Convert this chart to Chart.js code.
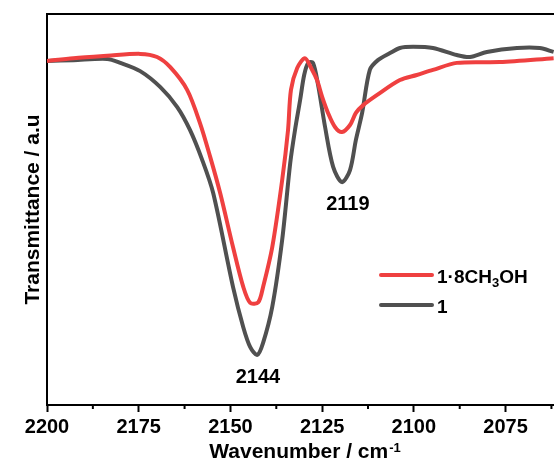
<!DOCTYPE html>
<html>
<head>
<meta charset="utf-8">
<script src="https://cdn.jsdelivr.net/npm/chart.js@4.4.0/dist/chart.umd.min.js"></script>
<style>
    html, body { margin: 0; padding: 0; background: #fff; }
    #wrap { width: 554px; height: 460px; position: relative; }
</style>
</head>
<body>
<div id="wrap"><canvas id="chartIR"></canvas></div>
<script>
// Serie "1"
const wavenumbersRef = [2200, 2192.8, 2183.6, 2180.0, 2174.6, 2169.1, 2164.5, 2161.0, 2157.7, 2154.7, 2149.3,
    2146.5, 2144.6, 2142.7, 2141.1, 2138.6, 2135.9, 2133.7, 2132.4, 2131.0, 2129.9,
    2128.8, 2127.5, 2126.1, 2124.2, 2122.0, 2119.6, 2117.4, 2115.8, 2114.1, 2112.0,
    2109.8, 2106.5, 2103.8, 2100.2, 2094.8, 2088.3, 2084.7, 2080.1, 2071.9, 2065.7, 2061.9];
const transRef = [88.0, 88.2, 88.5, 87.5, 85.4, 81.3, 76.2, 70.3, 62.7, 54.2, 30.2,
    19.9, 14.8, 12.8, 15.9, 25.1, 42.2, 61.9, 70.3, 78.0, 84.4,
    87.5, 87.5, 81.8, 71.1, 60.9, 57.0, 60.1, 67.8, 74.7, 85.7,
    88.2, 90.0, 91.3, 91.6, 91.3, 89.5, 89.0, 90.3, 91.3, 91.3, 90.3];

// Serie "1·8CH3OH"
const wavenumbersMeOH = [2200, 2192.8, 2183.6, 2174.6, 2170.0, 2166.4, 2161.8, 2158.3, 2155.5, 2152.8, 2149.3,
    2146.5, 2144.6, 2142.4, 2141.1, 2138.6, 2135.9, 2134.3, 2133.5, 2131.8, 2129.7,
    2128.0, 2126.4, 2125.0, 2123.4, 2121.5, 2119.6, 2117.4, 2115.8, 2113.8, 2110.0,
    2103.8, 2099.2, 2094.8, 2088.3, 2076.6, 2061.9];
const transMeOH = [88.0, 88.7, 89.3, 89.8, 89.0, 86.4, 80.6, 72.1, 63.4, 54.2, 40.4,
    30.2, 26.1, 26.3, 30.2, 40.4, 57.5, 70.3, 80.6, 86.2, 88.7,
    86.2, 83.1, 78.8, 74.7, 71.1, 69.8, 71.6, 74.7, 76.7, 79.3,
    83.1, 84.4, 85.7, 87.5, 87.7, 88.7];

const majorTicks = [2200, 2175, 2150, 2125, 2100, 2075];
const minorTicks = [2187.5, 2162.5, 2137.5, 2112.5, 2087.5, 2062.5];
const peakLabels = ['2144', '2119'];
const peakPositions = [2142.5, 2118];

const FONT = '"Liberation Sans", Arial, sans-serif';
const ROJO = '#ef4040';
const GRIS = '#505050';

function aPuntos(xs, ys) {
    return xs.map((x, i) => ({ x, y: ys[i] }));
}

const extrasPlugin = {
    id: 'extras',
    afterDraw(chart) {
        const { ctx, chartArea: a, scales: { x, y } } = chart;
        ctx.save();

        // marco superior y ticks menores
        ctx.strokeStyle = '#000';
        ctx.lineWidth = 2;
        ctx.beginPath();
        ctx.moveTo(a.left - 1, a.top);
        ctx.lineTo(a.right, a.top);
        ctx.stroke();
        minorTicks.forEach(v => {
            const px = x.getPixelForValue(v);
            ctx.beginPath();
            ctx.moveTo(px, a.bottom);
            ctx.lineTo(px, a.bottom + 4);
            ctx.stroke();
        });

        // etiquetas de picos, bajo el mínimo de la serie "1"
        ctx.fillStyle = '#000';
        ctx.font = 'bold 20px ' + FONT;
        ctx.textAlign = 'center';
        ctx.textBaseline = 'alphabetic';
        peakLabels.forEach((lbl, i) => {
            const w = peakPositions[i];
            let minV = Infinity;
            wavenumbersRef.forEach((wr, j) => {
                if (Math.abs(wr - w) < 3) minV = Math.min(minV, transRef[j]);
            });
            ctx.fillText(lbl, x.getPixelForValue(w), y.getPixelForValue(minV) + 28);
        });

        // leyenda
        const lx = a.left + 334;
        const ly = a.top + 261;
        ctx.lineCap = 'round';
        ctx.lineWidth = 4;
        [[ROJO, 0], [GRIS, 30]].forEach(([c, dy]) => {
            ctx.strokeStyle = c;
            ctx.beginPath();
            ctx.moveTo(lx, ly + dy);
            ctx.lineTo(lx + 51, ly + dy);
            ctx.stroke();
        });
        ctx.textAlign = 'left';
        ctx.font = 'bold 19px ' + FONT;
        let tx = lx + 56;
        ctx.fillText('1·8CH', tx, ly + 8);
        tx += ctx.measureText('1·8CH').width;
        ctx.font = 'bold 13px ' + FONT;
        ctx.fillText('3', tx, ly + 12);
        tx += ctx.measureText('3').width;
        ctx.font = 'bold 19px ' + FONT;
        ctx.fillText('OH', tx, ly + 8);
        ctx.fillText('1', lx + 56, ly + 38);

        // título eje X
        ctx.font = 'bold 21px ' + FONT;
        const base = 'Wavenumber / cm';
        const wBase = ctx.measureText(base).width;
        ctx.font = 'bold 13px ' + FONT;
        const wSup = ctx.measureText('-1').width;
        let sx = (a.left + a.right) / 2 + 4 - (wBase + wSup) / 2;
        ctx.font = 'bold 21px ' + FONT;
        ctx.fillText(base, sx, 458);
        ctx.font = 'bold 13px ' + FONT;
        ctx.fillText('-1', sx + wBase + 1, 452);

        // título eje Y
        ctx.font = 'bold 21px ' + FONT;
        ctx.textAlign = 'center';
        ctx.translate(38.5, (a.top + a.bottom) / 2);
        ctx.rotate(-Math.PI / 2);
        ctx.fillText('Transmittance / a.u', 0, 0);

        ctx.restore();
    }
};

new Chart(document.getElementById('chartIR').getContext('2d'), {
    type: 'line',
    data: {
        datasets: [
            {
                label: '1·8CH3OH',
                data: aPuntos(wavenumbersMeOH, transMeOH),
                borderColor: ROJO,
                borderWidth: 4,
                pointRadius: 0,
                tension: 0.3,
                fill: false
            },
            {
                label: '1',
                data: aPuntos(wavenumbersRef, transRef),
                borderColor: GRIS,
                borderWidth: 4,
                pointRadius: 0,
                tension: 0.3,
                fill: false
            }
        ]
    },
    options: {
        responsive: true,
        maintainAspectRatio: false,
        animation: false,
        layout: { padding: { top: 14, right: 0, bottom: 0, left: 0 } },
        plugins: {
            legend: { display: false },
            tooltip: { enabled: false }
        },
        scales: {
            x: {
                type: 'linear',
                reverse: true,
                min: 2061.8,
                max: 2200,
                afterBuildTicks: scale => {
                    scale.ticks = majorTicks.map(v => ({ value: v }));
                },
                afterFit: scale => { scale.height = 55; },
                ticks: {
                    color: '#000',
                    padding: 3,
                    maxRotation: 0,
                    autoSkip: false,
                    font: { family: FONT, size: 20, weight: 'bold' },
                    callback: v => String(v)
                },
                grid: {
                    drawOnChartArea: false,
                    drawTicks: true,
                    tickLength: 7,
                    tickColor: '#000',
                    tickWidth: 2
                },
                border: { display: true, color: '#000', width: 2 }
            },
            y: {
                min: 0,
                max: 100,
                afterFit: scale => { scale.width = 47; },
                ticks: { display: false },
                grid: { display: false },
                border: { display: true, color: '#000', width: 2 }
            }
        }
    },
    plugins: [extrasPlugin]
});
</script>
</body>
</html>
